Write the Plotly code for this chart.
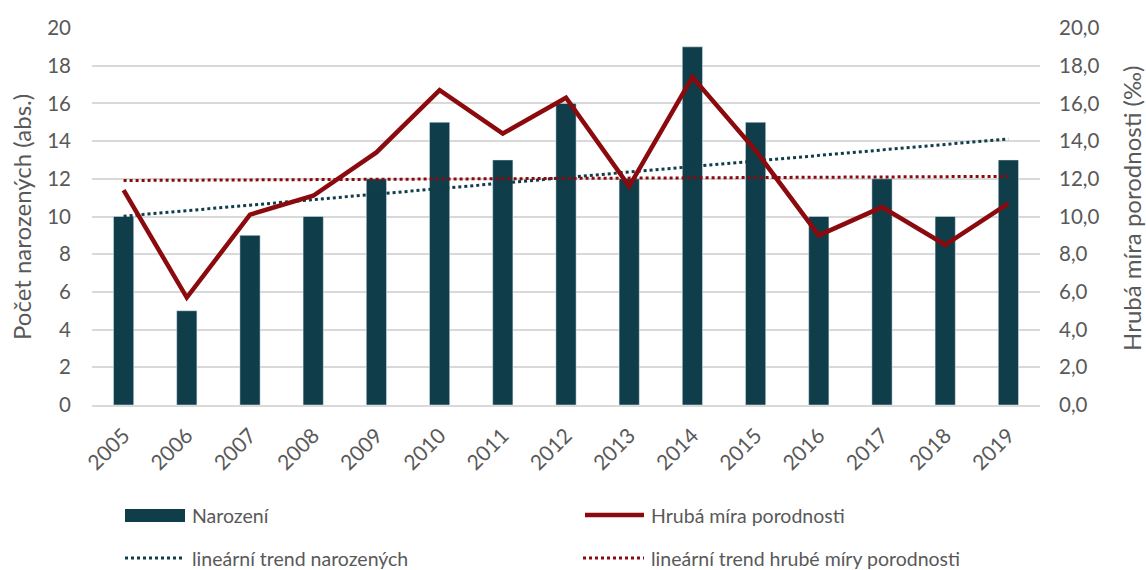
import numpy as np
import plotly.graph_objects as go

years = ["2005", "2006", "2007", "2008", "2009", "2010", "2011", "2012",
         "2013", "2014", "2015", "2016", "2017", "2018", "2019"]
births = [10, 5, 9, 10, 12, 15, 13, 16, 12, 19, 15, 10, 12, 10, 13]
birth_rate = [11.4, 5.7, 10.1, 11.1, 13.4, 16.7, 14.4, 16.3, 11.6, 17.4,
              13.5, 9.0, 10.5, 8.5, 10.7]

idx = np.arange(len(years))
trend_births = np.polyval(np.polyfit(idx, births, 1), idx)
trend_rate = np.polyval(np.polyfit(idx, birth_rate, 1), idx)

TEAL = "#0f3d4a"
RED = "#8b0a0e"
GRAY = "#595959"
GRID = "#d9d9d9"
FONT = "Lato"

fig = go.Figure()
fig.add_trace(go.Bar(x=years, y=births, name="Narození", marker_color=TEAL,
                     yaxis="y"))
fig.add_trace(go.Scatter(x=years, y=trend_births, name="lineární trend narozených",
                         mode="lines", line=dict(color=TEAL, width=3, dash="dot"),
                         yaxis="y"))
fig.add_trace(go.Scatter(x=years, y=birth_rate, name="Hrubá míra porodnosti",
                         mode="lines", line=dict(color=RED, width=4.5),
                         yaxis="y2"))
fig.add_trace(go.Scatter(x=years, y=trend_rate, name="lineární trend hrubé míry porodnosti",
                         mode="lines", line=dict(color=RED, width=3, dash="dot"),
                         yaxis="y2"))

L, R, T, B = 92, 1040, 28, 405

def px_x(p):
    return (p - L) / float(R - L)

def px_y(p):
    return (B - p) / float(B - T)

# manual legend (decoration, not data)
shapes = [
    dict(type="rect", xref="paper", yref="paper", x0=px_x(125), x1=px_x(185),
         y0=px_y(522), y1=px_y(509), fillcolor=TEAL, line=dict(width=0)),
    dict(type="line", xref="paper", yref="paper", x0=px_x(585), x1=px_x(644),
         y0=px_y(515), y1=px_y(515), line=dict(color=RED, width=4.5)),
    dict(type="line", xref="paper", yref="paper", x0=px_x(125), x1=px_x(185),
         y0=px_y(558), y1=px_y(558), line=dict(color=TEAL, width=3, dash="dot")),
    dict(type="line", xref="paper", yref="paper", x0=px_x(583), x1=px_x(644),
         y0=px_y(558), y1=px_y(558), line=dict(color=RED, width=3, dash="dot")),
]
legend_items = [
    ("Narození", 190, 515),
    ("Hrubá míra porodnosti", 649, 515),
    ("lineární trend narozených", 190, 558),
    ("lineární trend hrubé míry porodnosti", 649, 558),
]
annotations = [
    dict(text=t, xref="paper", yref="paper", x=px_x(x), y=px_y(y),
         xanchor="left", yanchor="middle", showarrow=False,
         font=dict(family=FONT, size=19.5, color=GRAY))
    for t, x, y in legend_items
]
annotations += [
    dict(text="Počet narozených (abs.)", xref="paper", yref="paper",
         x=px_x(21), y=px_y(217), xanchor="center", yanchor="middle",
         textangle=-90, showarrow=False,
         font=dict(family=FONT, size=24, color=GRAY)),
    dict(text="Hrubá míra porodnosti (‰)", xref="paper", yref="paper",
         x=px_x(1131), y=px_y(209), xanchor="center", yanchor="middle",
         textangle=-90, showarrow=False,
         font=dict(family=FONT, size=24, color=GRAY)),
]

fig.update_layout(
    width=1146, height=570,
    margin=dict(l=L, r=1146 - R, t=T, b=570 - B),
    paper_bgcolor="white", plot_bgcolor="white",
    showlegend=False,
    bargap=0.68,
    separators=", ",
    font=dict(family=FONT, size=19, color=GRAY),
    xaxis=dict(tickangle=-45, tickfont=dict(size=21, color=GRAY),
               showline=True, linecolor=GRID, linewidth=2, ticks="",
               ticklabelstandoff=8, range=[-0.5, 14.5]),
    yaxis=dict(range=[0, 20], dtick=2, gridcolor=GRID, gridwidth=2,
               zeroline=False, tickfont=dict(size=20.5, color=GRAY),
               ticklabelstandoff=20),
    yaxis2=dict(range=[0, 20], dtick=2, overlaying="y", side="right",
                showgrid=False, zeroline=False, tickformat=".1f",
                tickfont=dict(size=20.5, color=GRAY), ticklabelstandoff=18),
    shapes=shapes,
    annotations=annotations,
)

fig.write_html("out.html", config={"displayModeBar": False},
               post_script="document.body.style.margin='0';document.body.style.overflow='hidden';")
